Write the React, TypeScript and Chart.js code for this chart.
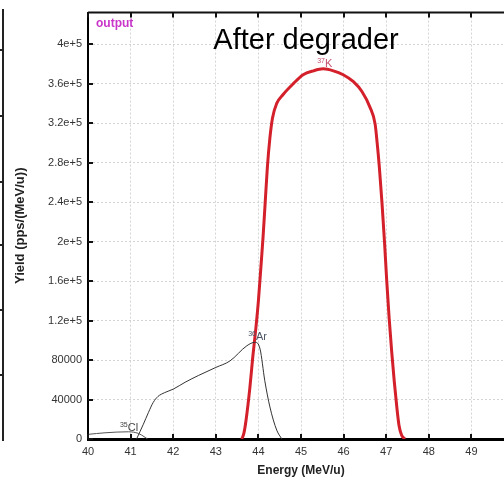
import { useEffect, useRef } from "react";
import { Chart, registerables } from "chart.js";

Chart.register(...registerables);

// ---- data ----
const xTickValues = [40, 41, 42, 43, 44, 45, 46, 47, 48, 49, 50];
const yTickValues = [0, 40000, 80000, 120000, 160000, 200000, 240000, 280000, 320000, 360000, 400000];
const yTickLabels = ["0", "40000", "80000", "1.2e+5", "1.6e+5", "2e+5", "2.4e+5", "2.8e+5", "3.2e+5", "3.6e+5", "4e+5"];

// 37K (red)
const k37Energy = [43.61, 43.66, 43.71, 43.8, 43.87, 43.94, 44.0, 44.06, 44.11, 44.16, 44.21, 44.27, 44.33, 44.43, 44.58, 44.82, 45.05, 45.29, 45.52, 45.76, 45.99, 46.23, 46.43, 46.62, 46.74, 46.79, 46.84, 46.9, 46.96, 47.01, 47.07, 47.13, 47.19, 47.25, 47.3, 47.36, 47.44];
const k37Yield = [0, 6000, 19000, 52000, 84000, 112000, 140000, 175000, 205000, 240000, 275000, 305000, 325000, 340000, 349000, 360000, 369000, 373000, 375000, 373000, 369000, 362000, 352000, 336000, 319000, 299000, 275000, 240000, 200000, 162000, 122000, 88000, 58000, 32000, 14000, 4000, 0];

// 36Ar (black, thin)
const ar36Energy = [41.14, 41.3, 41.42, 41.53, 41.64, 41.8, 42.0, 42.28, 42.6, 43.0, 43.33, 43.73, 43.92, 44.04, 44.15, 44.27, 44.43, 44.55];
const ar36Yield = [0, 15000, 27000, 37000, 43000, 47000, 50500, 57500, 64500, 72500, 79000, 94500, 98000, 91000, 59000, 32500, 9000, 0];

// 35Cl (grey, thin)
const cl35Energy = [40.0, 40.4, 40.95, 41.18, 41.34, 41.4];
const cl35Yield = [4700, 6300, 7300, 5700, 1700, 0];

// isotope labels: [superscript, symbol, energy, yield, colour]
const isotopeLabels: [string, string, number, number, string][] = [
  ["37", "K", 45.38, 377000, "#c4506e"],
  ["36", "Ar", 43.76, 100800, "#4f5666"],
  ["35", "Cl", 40.75, 8000, "#444444"],
];

// neighbouring panel edge ticks (decoration)
const edgeTicks = [50, 116, 182, 245, 310, 375];

const FONT = "Arial, 'Liberation Sans', Helvetica, sans-serif";

const toPoints = (xs: number[], ys: number[]) => xs.map((x, i) => ({ x, y: ys[i] }));

const overlayPlugin = {
  id: "overlay",
  afterDraw(chart: any) {
    const { ctx, chartArea } = chart;
    const xs = chart.scales.x;
    const ys = chart.scales.y;
    ctx.save();
    // top border
    ctx.strokeStyle = "#111";
    ctx.lineWidth = 2;
    ctx.beginPath();
    ctx.moveTo(chartArea.left, chartArea.top);
    ctx.lineTo(chartArea.right, chartArea.top);
    ctx.stroke();
    // inward ticks
    ctx.lineWidth = 2;
    xTickValues.forEach((v) => {
      const px = Math.round(xs.getPixelForValue(v));
      ctx.beginPath();
      ctx.moveTo(px, chartArea.bottom);
      ctx.lineTo(px, chartArea.bottom - 5);
      ctx.moveTo(px, chartArea.top);
      ctx.lineTo(px, chartArea.top + 5);
      ctx.stroke();
    });
    yTickValues.forEach((v) => {
      const py = Math.round(ys.getPixelForValue(v));
      ctx.beginPath();
      ctx.moveTo(chartArea.left, py);
      ctx.lineTo(chartArea.left + 5, py);
      ctx.stroke();
    });
    // isotope labels
    isotopeLabels.forEach(([sup, sym, e, y, col]) => {
      const px = xs.getPixelForValue(e);
      const py = ys.getPixelForValue(y);
      ctx.fillStyle = col;
      ctx.textAlign = "left";
      ctx.textBaseline = "alphabetic";
      ctx.font = `7px ${FONT}`;
      ctx.fillText(sup, px, py - 4);
      const w = ctx.measureText(sup).width;
      ctx.font = `11px ${FONT}`;
      ctx.fillText(sym, px + w, py);
    });
    // "output" tag
    ctx.fillStyle = "#c935c9";
    ctx.font = `bold 12px ${FONT}`;
    ctx.textAlign = "left";
    ctx.fillText("output", chartArea.left + 8, chartArea.top + 14);
    // Title
    ctx.fillStyle = "#000";
    ctx.font = `29px ${FONT}`;
    ctx.textAlign = "center";
    ctx.fillText("After degrader", 306, 49);
    ctx.restore();
  },
};

export default function App() {
  const ref = useRef<HTMLCanvasElement | null>(null);
  useEffect(() => {
    if (!ref.current) return;
    const chart = new Chart(ref.current, {
      type: "line",
      data: {
        datasets: [
          {
            label: "35Cl",
            data: toPoints(cl35Energy, cl35Yield),
            borderColor: "#555",
            borderWidth: 1,
            pointRadius: 0,
            cubicInterpolationMode: "monotone",
          },
          {
            label: "36Ar",
            data: toPoints(ar36Energy, ar36Yield),
            borderColor: "#333",
            borderWidth: 1,
            pointRadius: 0,
            cubicInterpolationMode: "monotone",
          },
          {
            label: "37K",
            data: toPoints(k37Energy, k37Yield),
            borderColor: "#d4202a",
            borderWidth: 3,
            pointRadius: 0,
            cubicInterpolationMode: "monotone",
          },
        ],
      },
      options: {
        animation: false,
        responsive: false,
        maintainAspectRatio: false,
        devicePixelRatio: 1,
        layout: { padding: { top: 9, right: 26, left: 0, bottom: 0 } },
        plugins: { legend: { display: false }, tooltip: { enabled: false }, title: { display: false } },
        scales: {
          x: {
            type: "linear",
            min: 40,
            max: 50,
            afterBuildTicks: (s: any) => {
              s.ticks = xTickValues.map((v) => ({ value: v }));
            },
            afterFit: (s: any) => {
              s.height = 39;
            },
            grid: { color: "#d4d4d4", lineWidth: 1, drawTicks: false },
            border: { color: "#000", width: 3, dash: [2, 2] },
            ticks: {
              padding: 6,
              color: "#333",
              autoSkip: false,
              maxRotation: 0,
              font: { family: FONT, size: 11 },
              callback: (v: any) => String(v),
            },
            title: {
              display: true,
              text: "Energy (MeV/u)",
              color: "#222",
              font: { family: FONT, size: 12, weight: "bold" },
              padding: { top: 4, bottom: 0 },
            },
          },
          y: {
            type: "linear",
            min: 0,
            max: 432000,
            afterBuildTicks: (s: any) => {
              s.ticks = yTickValues.map((v) => ({ value: v }));
            },
            afterFit: (s: any) => {
              s.width = 88;
            },
            grid: { color: "#d4d4d4", lineWidth: 1, drawTicks: false },
            border: { color: "#000", width: 2, dash: [2, 2] },
            ticks: {
              padding: 6,
              color: "#333",
              autoSkip: false,
              font: { family: FONT, size: 11 },
              callback: (v: any) => {
                const i = yTickValues.indexOf(Number(v));
                return i >= 0 ? yTickLabels[i] : "";
              },
            },
            title: {
              display: true,
              text: "Yield (pps/(MeV/u))",
              color: "#222",
              font: { family: FONT, size: 13, weight: "bold" },
              padding: { top: 13, bottom: 0 },
            },
          },
        },
      },
      plugins: [overlayPlugin],
    } as any);
    return () => chart.destroy();
  }, []);

  return (
    <div style={{ position: "absolute", left: 0, top: 0, width: 504, height: 478, overflow: "hidden", background: "#fff" }}>
      <div style={{ position: "absolute", left: 2, top: 9, width: 2, height: 432, background: "#222" }} />
      {edgeTicks.map((t) => (
        <div key={t} style={{ position: "absolute", left: 0, top: t - 1, width: 4, height: 2, background: "#222" }} />
      ))}
      <canvas ref={ref} width={540} height={478} style={{ position: "absolute", left: 0, top: 0, width: 540, height: 478 }} />
    </div>
  );
}
